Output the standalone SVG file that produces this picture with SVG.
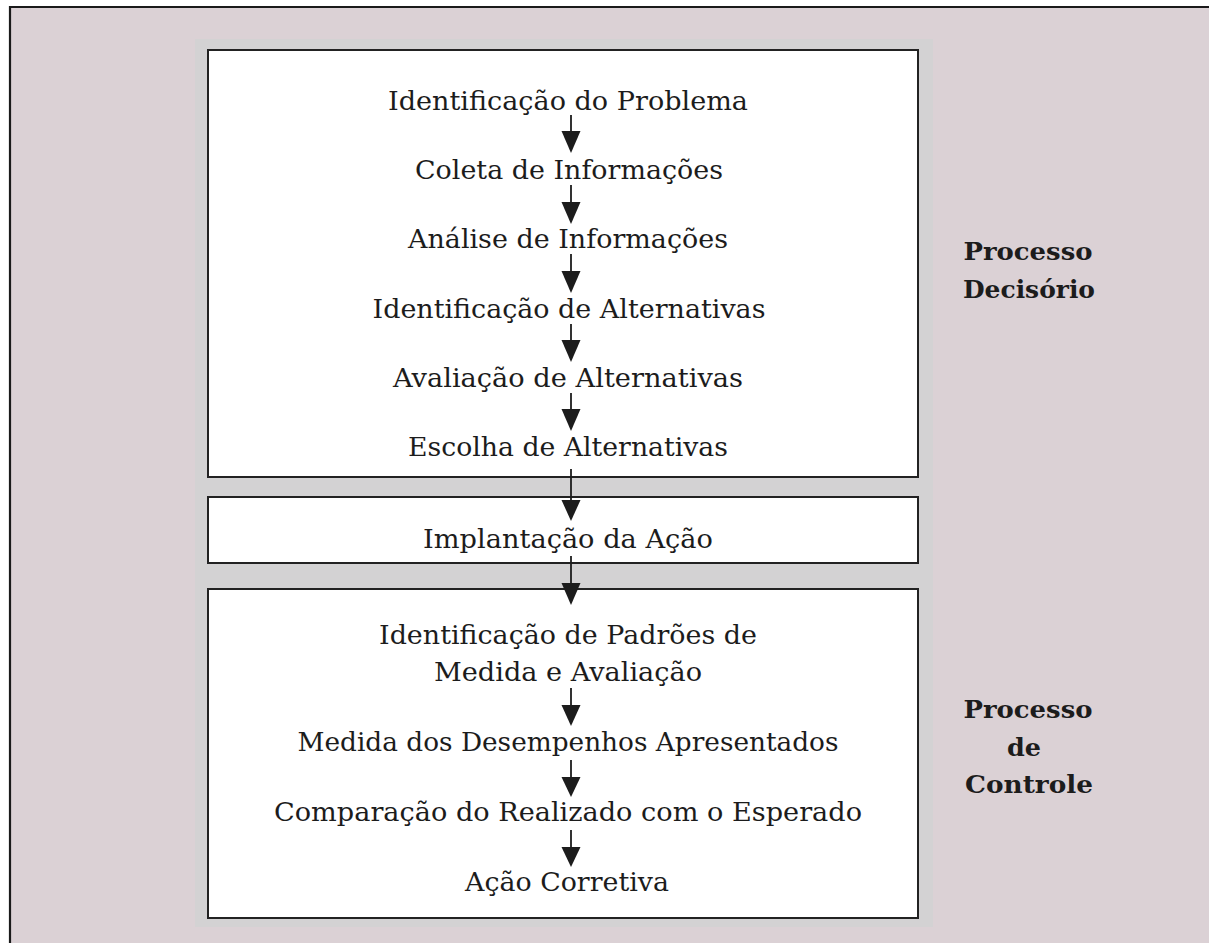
<svg xmlns="http://www.w3.org/2000/svg" width="1209" height="943" viewBox="0 0 1209 943">
<style>
.bg{fill:#dbd1d5}
.shadow{fill:#d3d2d3}
.box{fill:#ffffff;stroke:#222;stroke-width:2}
.t{font-family:"DejaVu Serif","Liberation Serif",serif;font-size:26.5px;fill:#1c1c1c;text-anchor:middle}
.b{font-family:"DejaVu Serif","Liberation Serif",serif;font-size:25px;font-weight:bold;fill:#1c1c1c;text-anchor:middle}
.ln{stroke:#1c1c1c;stroke-width:1.8;fill:none}
.hd{fill:#1c1c1c}
</style>
<rect x="0" y="0" width="1209" height="943" fill="#ffffff"/>
<rect class="bg" x="10" y="7" width="1205" height="945"/>
<path d="M10,945 V7 H1209" fill="none" stroke="#1a1a1a" stroke-width="2.2"/>
<rect class="shadow" x="195" y="39" width="738" height="888"/>

<g id="node-decisorio">
<rect class="box" x="208" y="50" width="710" height="427"/>
<text class="t" x="568" y="110" textLength="360" lengthAdjust="spacingAndGlyphs">Identificação do Problema</text>
<text class="t" x="569" y="179" textLength="308" lengthAdjust="spacingAndGlyphs">Coleta de Informações</text>
<text class="t" x="568" y="248" textLength="320" lengthAdjust="spacingAndGlyphs">Análise de Informações</text>
<text class="t" x="569" y="318" textLength="393" lengthAdjust="spacingAndGlyphs">Identificação de Alternativas</text>
<text class="t" x="568" y="387" textLength="350" lengthAdjust="spacingAndGlyphs">Avaliação de Alternativas</text>
<text class="t" x="568" y="456" textLength="320" lengthAdjust="spacingAndGlyphs">Escolha de Alternativas</text>
</g>

<g id="node-implantacao">
<rect class="box" x="208" y="497" width="710" height="66"/>
<text class="t" x="568" y="548" textLength="290" lengthAdjust="spacingAndGlyphs">Implantação da Ação</text>
</g>

<g id="node-controle">
<rect class="box" x="208" y="589" width="710" height="329"/>
<text class="t" x="568" y="644" textLength="378" lengthAdjust="spacingAndGlyphs">Identificação de Padrões de</text>
<text class="t" x="568" y="681" textLength="268" lengthAdjust="spacingAndGlyphs">Medida e Avaliação</text>
<text class="t" x="568" y="751" textLength="541" lengthAdjust="spacingAndGlyphs">Medida dos Desempenhos Apresentados</text>
<text class="t" x="568" y="821" textLength="588" lengthAdjust="spacingAndGlyphs">Comparação do Realizado com o Esperado</text>
<text class="t" x="567" y="891" textLength="204" lengthAdjust="spacingAndGlyphs">Ação Corretiva</text>
</g>

<g id="label-decisorio">
<text class="b" x="1028" y="260" textLength="129" lengthAdjust="spacingAndGlyphs">Processo</text>
<text class="b" x="1029" y="298" textLength="132" lengthAdjust="spacingAndGlyphs">Decisório</text>
</g>

<g id="label-controle">
<text class="b" x="1028" y="718" textLength="129" lengthAdjust="spacingAndGlyphs">Processo</text>
<text class="b" x="1024" y="756" textLength="34" lengthAdjust="spacingAndGlyphs">de</text>
<text class="b" x="1029" y="793" textLength="128" lengthAdjust="spacingAndGlyphs">Controle</text>
</g>

<g id="connectors">
<path class="ln" d="M571,115 V133"/><polygon class="hd" points="561.5,131 580.5,131 571,153"/>
<path class="ln" d="M571,185 V204"/><polygon class="hd" points="561.5,202 580.5,202 571,224"/>
<path class="ln" d="M571,254 V273"/><polygon class="hd" points="561.5,271 580.5,271 571,293"/>
<path class="ln" d="M571,324 V342"/><polygon class="hd" points="561.5,340 580.5,340 571,362"/>
<path class="ln" d="M571,393 V411"/><polygon class="hd" points="561.5,409 580.5,409 571,431"/>
<path class="ln" d="M571,469 V502"/><polygon class="hd" points="561.5,500 580.5,500 571,521"/>
<path class="ln" d="M571,556 V585"/><polygon class="hd" points="561.5,583 580.5,583 571,605"/>
<path class="ln" d="M571,688 V707"/><polygon class="hd" points="561.5,705 580.5,705 571,726"/>
<path class="ln" d="M571,760 V779"/><polygon class="hd" points="561.5,777 580.5,777 571,797"/>
<path class="ln" d="M571,830 V849"/><polygon class="hd" points="561.5,847 580.5,847 571,867"/>
</g>
</svg>
